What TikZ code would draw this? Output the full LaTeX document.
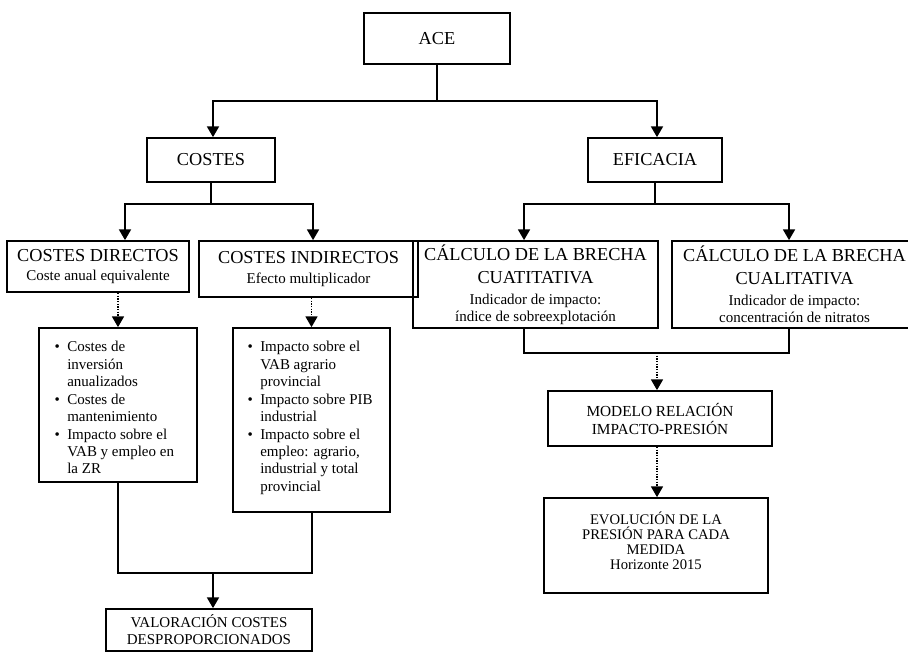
\documentclass[tikz,border=0pt]{standalone}
\usepackage{fontspec}
\setmainfont{Liberation Serif}
\usetikzlibrary{arrows.meta}
\newcommand\bigf{\fontsize{13.7pt}{16pt}\selectfont}
\newcommand\smf{\fontsize{11.25pt}{12.5pt}\selectfont}
\newcommand\bulf{\fontsize{11.25pt}{13.1pt}\selectfont}
\newcommand\modf{\fontsize{11.5pt}{12.5pt}\selectfont}
\newcommand\evof{\fontsize{11pt}{11.25pt}\selectfont}
\newcommand\mybul{\llap{\textbullet\hspace{5.5pt}}}
\begin{document}
\begin{tikzpicture}[x=0.75pt,y=-0.75pt,
  box/.style={draw, line width=1.3pt, inner sep=0pt, align=center, font=\smf},
  wh/.style n args={2}{minimum width={#1*0.75pt}, minimum height={#2*0.75pt}},
  conn/.style={line width=1.1pt},
  arr/.style={conn, -{Triangle[width=9pt,length=8pt]}},
  dotarr/.style={line width=0.9pt, dash pattern=on 1pt off 1pt, -{Triangle[width=9pt,length=8pt]}},
  bultext/.style={align=left, inner sep=0pt, font=\bulf, anchor=north west}]
\useasboundingbox (0,0) rectangle (908,652);

% boxes
\node[box, wh={146}{51}, font=\bigf] (ACE) at (437,38.5) {ACE};
\node[box, wh={128}{44}, font=\bigf] (COSTES) at (211,160) {COSTES};
\node[box, wh={134}{44}, font=\bigf] (EFI) at (655,160) {EFICACIA};
\node[box, wh={182}{51}] (CD) at (98,266.5) {{\bigf COSTES DIRECTOS}\\[1.75pt]Coste anual equivalente};
\node[box, wh={219}{56}] (CI) at (308.5,269) {{\bigf COSTES INDIRECTOS}\\[2.5pt]Efecto multiplicador};
\node[box, wh={158}{154}] (B1) at (118,405) {};
\node[box, wh={157}{184}] (B2) at (311.5,420) {};
\node[box, wh={245}{87}] (BL) at (535.5,284.5) {{\bigf C\'ALCULO DE LA BRECHA}\\[4.75pt]{\bigf CUATITATIVA}\\[3.25pt]Indicador de impacto:\\\'{\i}ndice de sobreexplotaci\'on};
\node[box, wh={245}{87}] (BR) at (794.5,284.5) {{\bigf C\'ALCULO DE LA BRECHA}\\[4.75pt]{\bigf CUALITATIVA}\\[3.25pt]Indicador de impacto:\\concentraci\'on de nitratos};
\node[box, wh={224}{55}, font=\modf] (MOD) at (660,418.5) {MODELO RELACI\'ON\\[1pt]IMPACTO-PRESI\'ON};
\node[box, wh={224}{95}, font=\evof] (EVO) at (656,545.5) {EVOLUCI\'ON DE LA\\PRESI\'ON PARA CADA\\MEDIDA\\Horizonte 2015\\[-3.75pt]\mbox{}};
\node[box, wh={206}{42}] (VAL) at (209,630) {VALORACI\'ON COSTES\\[0.25pt]DESPROPORCIONADOS};

% bullet texts
\node[bultext] (T1) at (67,341) {\mybul Costes de\\inversi\'on\\anualizados\\\mybul Costes de\\mantenimiento\\\mybul Impacto sobre el\\VAB y empleo en\\la ZR};
\node[bultext] (T2) at (260,341) {\mybul Impacto sobre el\\VAB agrario\\provincial\\\mybul Impacto sobre PIB\\industrial\\\mybul Impacto sobre el\\empleo: agrario,\\industrial y total\\provincial};

% connectors
\coordinate (j0) at (437,101);
\draw[conn] (ACE.south) -- (j0);
\draw[arr] (j0) -| ([xshift=1.5pt]COSTES.north);
\draw[arr] (j0) -| ([xshift=1.5pt]EFI.north);

\coordinate (j1) at (211,204);
\draw[conn] (COSTES.south) -- (j1);
\draw[arr] (j1) -| ([xshift=20.25pt]CD.north);
\draw[arr] (j1) -| ([xshift=3.4pt]CI.north);

\coordinate (j2) at (655,204);
\draw[conn] (EFI.south) -- (j2);
\draw[arr] (j2) -| ([xshift=-8.6pt]BL.north);
\draw[arr] (j2) -| ([xshift=-4.1pt]BR.north);

\draw[dotarr] (B1.north |- CD.south) -- (B1.north);
\draw[dotarr] (B2.north |- CI.south) -- (B2.north);

\coordinate (j3) at (213,573);
\draw[conn] (B1.south) |- (j3) -| ([xshift=0.4pt]B2.south);
\draw[arr] (j3) -- (j3 |- VAL.north);

\coordinate (j4) at (657,353);
\draw[conn] ([xshift=-8.6pt]BL.south) |- (j4) -| ([xshift=-4.1pt]BR.south);
\draw[dotarr] (j4) -- (j4 |- MOD.north);
\draw[dotarr] (MOD.south -| j4) -- (j4 |- EVO.north);
\end{tikzpicture}
\end{document}
